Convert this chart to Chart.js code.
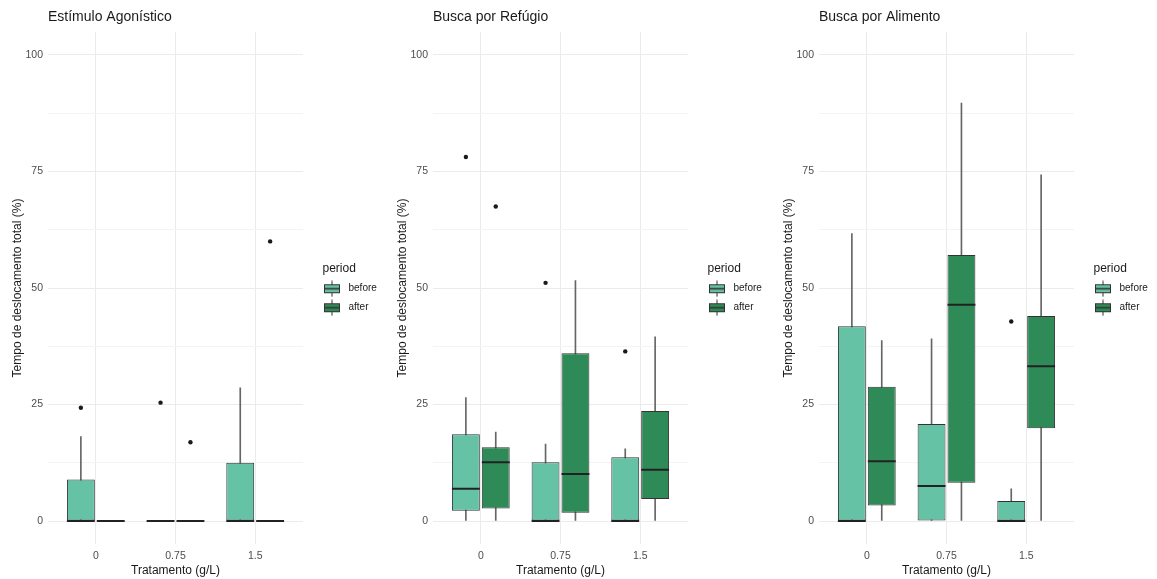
<!DOCTYPE html>
<html>
<head>
<meta charset="utf-8">
<script src="https://cdn.jsdelivr.net/npm/chart.js@4/dist/chart.umd.min.js"></script>
<style>
  html, body { margin: 0; padding: 0; background: #fff; width: 1157px; height: 579px; overflow: hidden; }
  .panel { position: absolute; top: 0; width: 386px; height: 579px; }
</style>
</head>
<body>
<div class="panel" style="left:0px"><canvas id="c0" width="386" height="579"></canvas></div>
<div class="panel" style="left:385px"><canvas id="c1" width="386" height="579"></canvas></div>
<div class="panel" style="left:771px"><canvas id="c2" width="386" height="579"></canvas></div>
<script>
// Doses (g/L) on the x axis and the two periods compared at each dose
const categories = ['0', '0.75', '1.5'];
const periods = ['before', 'after'];
const panelTitles = ['Estímulo Agonístico', 'Busca por Refúgio', 'Busca por Alimento'];
const yMajorTicks = [0, 25, 50, 75, 100];
const yMinorTicks = [12.5, 37.5, 62.5, 87.5];

// Box summaries per dose: [lower whisker, Q1, median, Q3, upper whisker]
const agonisticBefore = [[0, 0, 0, 8.9, 18.1], [0, 0, 0, 0, 0], [0, 0, 0, 12.5, 28.6]];
const agonisticAfter  = [[0, 0, 0, 0, 0], [0, 0, 0, 0, 0], [0, 0, 0, 0, 0]];
const agonisticBeforeOutliers = [[24.3], [25.4], []];
const agonisticAfterOutliers  = [[], [16.9], [60.0]];

const refugeBefore = [[0, 2.2, 6.9, 18.6, 26.5], [0, 0, 0, 12.6, 16.5], [0, 0, 0, 13.7, 15.5]];
const refugeAfter  = [[0, 2.7, 12.6, 15.8, 19.1], [0, 1.75, 10.1, 36.0, 51.6], [0, 4.7, 11.0, 23.6, 39.5]];
const refugeBeforeOutliers = [[78.1], [51.1], [36.4]];
const refugeAfterOutliers  = [[67.5], [], []];

const foodBefore = [[0, 0, 0, 41.8, 61.7], [0, 0, 7.5, 20.8, 39.1], [0, 0, 0, 4.3, 6.9]];
const foodAfter  = [[0, 3.3, 12.8, 28.8, 38.7], [0, 8.2, 46.4, 57.1, 89.7], [0, 19.9, 33.2, 44.0, 74.3]];
const foodBeforeOutliers = [[], [], [42.8]];
const foodAfterOutliers  = [[], [], []];

// Geometry in category units
const DODGE = 0.75;
const BOX_WIDTH = 0.35;
const X_EXPAND = 0.6;
const offsets = { before: -DODGE / 4, after: DODGE / 4 };
const fills = { before: '#66C2A5', after: '#2E8B57' };
const OUTLINE = '#333333';
const TEXT = '#1a1a1a';
const TICK_TEXT = '#4d4d4d';

// Layout in pixels
const PLOT_LEFT = 48;
const PLOT_RIGHT = 303;
const CANVAS_W = 386;
const LEGEND_GAP = 19.5;
const LEGEND_W = 62;

Chart.defaults.font.family = "'Liberation Sans', Arial, sans-serif";

// Legend key: small box with whisker stubs and a median bar
function makeKey(fill) {
  const c = document.createElement('canvas');
  c.width = 27; c.height = 17;
  const g = c.getContext('2d');
  g.strokeStyle = OUTLINE;
  g.lineWidth = 1;
  g.beginPath(); g.moveTo(8, 0.5); g.lineTo(8, 4.5); g.moveTo(8, 12.5); g.lineTo(8, 16.5); g.stroke();
  g.fillStyle = fill;
  g.fillRect(0.5, 4.5, 15, 8);
  g.strokeRect(0.5, 4.5, 15, 8);
  g.lineWidth = 1.6;
  g.beginPath(); g.moveTo(0.5, 8.5); g.lineTo(15.5, 8.5); g.stroke();
  return c;
}
const keys = { before: makeKey(fills.before), after: makeKey(fills.after) };

const boxData = (stats, off) => stats.map((s, i) => ({ x: i + off, y: [s[1], s[3]] }));
const whiskerData = (stats, off) => stats.map((s, i) => ({ x: i + off, y: [s[0], s[4]] }));
const medianData = (stats, off) => stats.map((s, i) => ({ x: i + off, y: s[2] }));
const outlierData = (lists, off) => lists.flatMap((vals, i) => vals.map(v => ({ x: i + off, y: v })));

function halfBoxPixels(ctx) {
  const xs = ctx.chart.scales.x;
  return Math.abs(xs.getPixelForValue(BOX_WIDTH / 2) - xs.getPixelForValue(0));
}

function drawPanel(id, title, before, after, beforeOut, afterOut) {
  const stats = { before, after };
  const datasets = [
    {
      type: 'bar', label: 'whiskers', order: 4, grouped: false, barThickness: 1,
      backgroundColor: '#666666', borderWidth: 0, yAxisID: 'y',
      data: [...whiskerData(before, offsets.before), ...whiskerData(after, offsets.after)]
    },
    ...periods.map(p => ({
      type: 'bar', label: p, order: 3, grouped: false,
      categoryPercentage: 1, barPercentage: BOX_WIDTH / (DODGE / 2),
      backgroundColor: fills[p], borderColor: OUTLINE, borderWidth: 1, borderSkipped: false,
      yAxisID: 'y', data: boxData(stats[p], offsets[p])
    })),
    {
      type: 'scatter', label: 'median', order: 2, yAxisID: 'y',
      pointStyle: 'line', pointRadius: halfBoxPixels, pointBorderWidth: 2,
      pointBorderColor: '#222222', borderColor: '#222222',
      data: [...medianData(before, offsets.before), ...medianData(after, offsets.after)]
    },
    {
      type: 'scatter', label: 'outliers', order: 1, yAxisID: 'y',
      pointRadius: 2.2, pointBorderWidth: 0, pointBackgroundColor: '#1a1a1a',
      data: [...outlierData(beforeOut, offsets.before), ...outlierData(afterOut, offsets.after)]
    }
  ];

  new Chart(document.getElementById(id), {
    type: 'bar',
    data: { datasets },
    options: {
      responsive: false,
      animation: false,
      events: [],
      layout: { padding: { left: 0, top: 0, right: CANVAS_W - PLOT_RIGHT - LEGEND_GAP - LEGEND_W, bottom: 1 } },
      plugins: {
        tooltip: { enabled: false },
        title: {
          display: true, text: title, align: 'start', fullSize: false,
          color: TEXT, font: { size: 14, weight: 'normal' },
          padding: { top: 8.6, bottom: 6.3 }
        },
        legend: {
          position: 'right', align: 'center', fullSize: false, maxWidth: LEGEND_W,
          title: {
            display: true, text: 'period', position: 'start', color: TEXT,
            font: { size: 12 }, padding: { top: 8, bottom: -2 }
          },
          labels: {
            usePointStyle: true, pointStyleWidth: 12, padding: 9,
            color: '#333333', font: { size: 10 },
            generateLabels: () => periods.map((p, i) => ({
              text: p, pointStyle: keys[p], fillStyle: fills[p], strokeStyle: OUTLINE,
              lineWidth: 0, hidden: false, datasetIndex: i + 1
            }))
          }
        }
      },
      scales: {
        x: {
          type: 'linear', min: -X_EXPAND, max: categories.length - 1 + X_EXPAND,
          offset: false,
          afterBuildTicks: s => { s.ticks = categories.map((c, i) => ({ value: i })); },
          afterFit: s => { s.height = 33.7; },
          ticks: { callback: v => categories[v], color: TICK_TEXT, font: { size: 10.5 }, padding: 6, autoSkip: false, maxRotation: 0 },
          grid: { offset: false, color: '#ebebeb', lineWidth: 1, drawTicks: false },
          border: { display: false },
          title: { display: true, text: 'Tratamento (g/L)', color: TEXT, font: { size: 12 }, padding: { top: 0, bottom: 0 } }
        },
        y: {
          type: 'linear', position: 'left', min: -5, max: 105,
          afterBuildTicks: s => {
            s.ticks = [...yMajorTicks, ...yMinorTicks].sort((a, b) => a - b).map(v => ({ value: v }));
          },
          afterFit: s => { s.width = PLOT_LEFT; },
          ticks: { callback: v => (yMajorTicks.includes(v) ? String(v) : ''), color: TICK_TEXT, font: { size: 10.5 }, padding: 5 },
          grid: {
            color: c => (yMajorTicks.includes(c.tick.value) ? '#ebebeb' : '#f4f4f4'),
            lineWidth: 1, drawTicks: false
          },
          border: { display: false },
          title: { display: true, text: 'Tempo de deslocamento total (%)', color: TEXT, font: { size: 12 }, padding: { top: 10, bottom: 0 } }
        },
        gap: {
          type: 'linear', position: 'right', display: true,
          afterFit: s => { s.width = LEGEND_GAP; },
          ticks: { display: false }, grid: { display: false, drawTicks: false }, border: { display: false }
        }
      }
    }
  });
}

drawPanel('c0', panelTitles[0], agonisticBefore, agonisticAfter, agonisticBeforeOutliers, agonisticAfterOutliers);
drawPanel('c1', panelTitles[1], refugeBefore, refugeAfter, refugeBeforeOutliers, refugeAfterOutliers);
drawPanel('c2', panelTitles[2], foodBefore, foodAfter, foodBeforeOutliers, foodAfterOutliers);
</script>
</body>
</html>
